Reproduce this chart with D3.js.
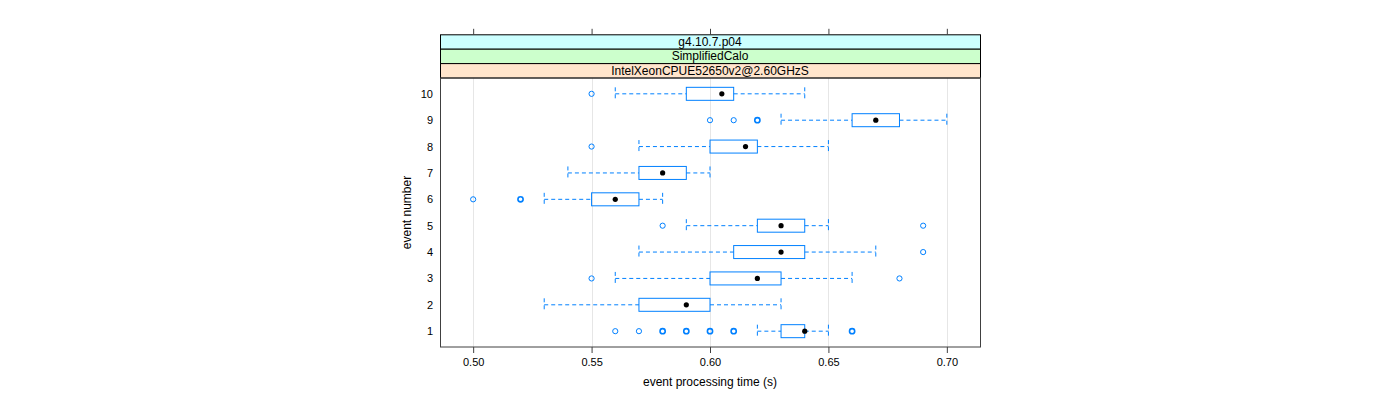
<!DOCTYPE html>
<html><head><meta charset="utf-8">
<script src="https://cdn.jsdelivr.net/npm/d3@7"></script>
<style>body{margin:0;background:#fff}svg{display:block}text{font-family:"Liberation Sans",Arial,sans-serif}</style>
</head><body><svg id="c" width="1400" height="400"></svg>
<script>
const events = [1,2,3,4,5,6,7,8,9,10];
const whiskerLow  = [0.62,0.53,0.56,0.57,0.59,0.53,0.54,0.57,0.63,0.56];
const boxLow      = [0.63,0.57,0.60,0.61,0.62,0.55,0.57,0.60,0.66,0.59];
const medians     = [0.64,0.59,0.62,0.63,0.63,0.56,0.58,0.615,0.67,0.605];
const boxHigh     = [0.64,0.60,0.63,0.64,0.64,0.57,0.59,0.62,0.68,0.61];
const whiskerHigh = [0.65,0.63,0.66,0.67,0.65,0.58,0.60,0.65,0.70,0.64];
const outliers = [
  [0.56,0.57,0.58,0.59,0.60,0.61,0.66],
  [],
  [0.55,0.68],
  [0.69],
  [0.58,0.69],
  [0.50,0.52],
  [],
  [0.55],
  [0.60,0.61,0.62],
  [0.55]
];
const outlierCounts = [
  [1,1,2,2,2,2,2],
  [],
  [1,1],
  [1],
  [1,1],
  [1,2],
  [],
  [1],
  [1,1,2],
  [1]
];
const xTicks = [0.50,0.55,0.60,0.65,0.70];
const xTickLabels = ["0.50","0.55","0.60","0.65","0.70"];
const strips = ["g4.10.7.p04","SimplifiedCalo","IntelXeonCPUE52650v2@2.60GHzS"];
const stripColors = ["#ccffff","#ccffcc","#ffe5cc"];

const svg = d3.select("#c");
const L=440, R=980, T=78, B=347;
const x = d3.scaleLinear().domain([0.486,0.714]).range([L,R]);
const y = d3.scaleLinear().domain([0.4,10.6]).range([B,T]);
const blue = "#0080ff";

// grid
svg.append("g").selectAll("line").data(xTicks).join("line")
  .attr("x1",d=>Math.round(x(d))+0.5).attr("x2",d=>Math.round(x(d))+0.5)
  .attr("y1",T).attr("y2",B).attr("stroke","#e6e6e6").attr("stroke-width",1);

// strips
const sh = 14.4;
strips.forEach((s,i)=>{
  const top = T - sh*(3-i);
  svg.append("rect").attr("x",L+0.5).attr("y",top).attr("width",R-L).attr("height",sh)
    .attr("fill",stripColors[i]).attr("stroke","#000").attr("stroke-width",1);
  svg.append("text").attr("x",(L+R)/2).attr("y",top+sh/2+4).attr("text-anchor","middle")
    .attr("font-size",12).text(s);
});

// axes
const bottom = d3.axisBottom(x).tickValues(xTicks).tickFormat((d,i)=>xTickLabels[i]).tickSize(6).tickPadding(5);
const gb = svg.append("g").attr("transform",`translate(0,${B})`).call(bottom);
gb.select(".domain").remove();
gb.selectAll("line").attr("stroke","#404040");
gb.selectAll("text").attr("font-size",11).attr("font-family","Liberation Sans, Arial, sans-serif").attr("fill","#000");
const topAx = d3.axisTop(x).tickValues(xTicks).tickFormat("").tickSize(6);
const gt = svg.append("g").attr("transform",`translate(0,${T-sh*3})`).call(topAx);
gt.select(".domain").remove();
gt.selectAll("line").attr("stroke","#404040");

const left = d3.axisLeft(y).tickValues(events).tickSize(0).tickPadding(7);
const gl = svg.append("g").attr("transform",`translate(${L},0)`).call(left);
gl.select(".domain").remove();
gl.selectAll("text").attr("font-size",11).attr("font-family","Liberation Sans, Arial, sans-serif").attr("fill","#000");

// boxes
const half = 6.5;
const g = svg.append("g");
events.forEach((e,i)=>{
  const cy = y(e);
  // whiskers
  [[whiskerLow[i],boxLow[i]],[boxHigh[i],whiskerHigh[i]]].forEach(([a,b])=>{
    g.append("line").attr("x1",x(a)).attr("x2",x(b)).attr("y1",cy).attr("y2",cy)
      .attr("stroke",blue).attr("stroke-dasharray","4,3").attr("stroke-width",1);
  });
  [whiskerLow[i],whiskerHigh[i]].forEach(v=>{
    g.append("line").attr("x1",x(v)).attr("x2",x(v)).attr("y1",cy-half).attr("y2",cy+half)
      .attr("stroke",blue).attr("stroke-dasharray","4,3").attr("stroke-width",1);
  });
  g.append("rect").attr("x",x(boxLow[i])).attr("y",cy-half)
    .attr("width",Math.max(0,x(boxHigh[i])-x(boxLow[i]))).attr("height",half*2)
    .attr("fill","none").attr("stroke",blue).attr("stroke-width",1);
  outliers[i].forEach((v,j)=>{
    g.append("circle").attr("cx",x(v)).attr("cy",cy).attr("r",2.6)
      .attr("fill","none").attr("stroke",blue).attr("stroke-width",outlierCounts[i][j]>1?1.6:1);
  });
  g.append("circle").attr("cx",x(medians[i])).attr("cy",cy).attr("r",2.6).attr("fill","#000");
});

// frame
svg.append("rect").attr("x",L+0.5).attr("y",T).attr("width",R-L).attr("height",B-T)
  .attr("fill","none").attr("stroke","#404040").attr("stroke-width",1);

// titles
svg.append("text").attr("x",(L+R)/2).attr("y",386).attr("text-anchor","middle").attr("font-size",12).text("event processing time (s)");
svg.append("text").attr("transform",`translate(411,${(T+B)/2}) rotate(-90)`).attr("text-anchor","middle").attr("font-size",12).text("event number");
</script></body></html>
